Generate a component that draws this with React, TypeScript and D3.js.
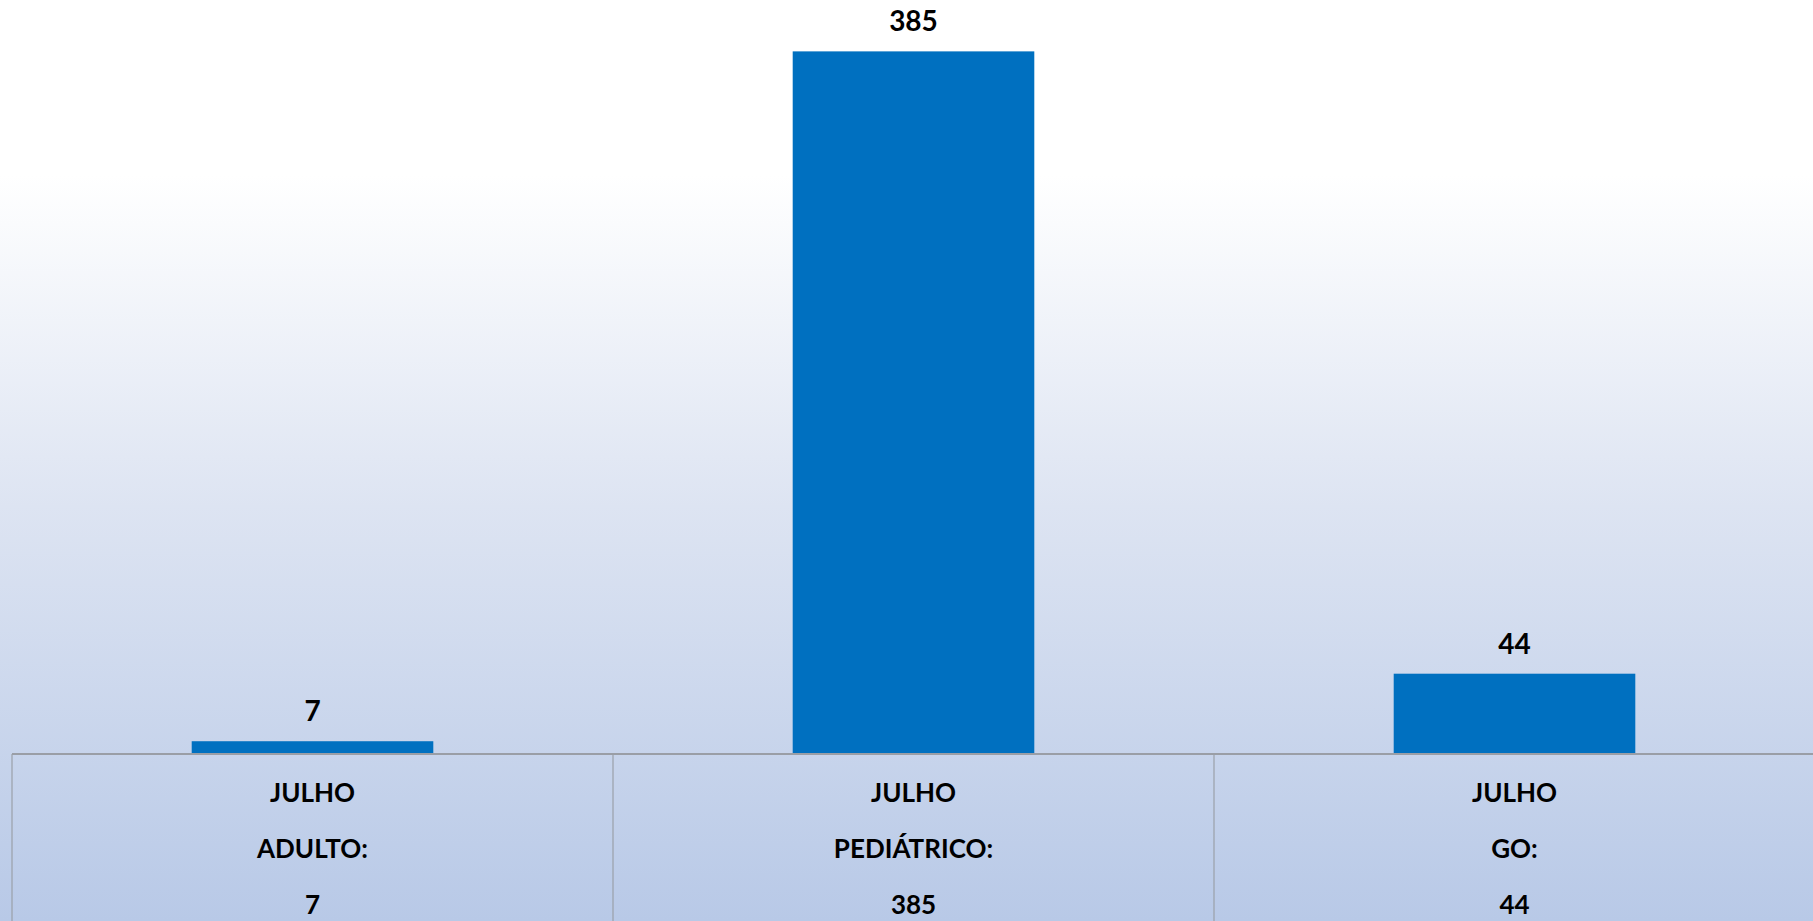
import React from "react";
import * as d3 from "d3";

const categories = ["ADULTO:", "PEDIÁTRICO:", "GO:"];
const period = "JULHO";
const values = [7, 385, 44];

const W = 1813;
const H = 921;

export default function App() {
  const x = d3.scaleBand<string>().domain(categories).range([12, 1815]).padding(0);
  const y = d3.scaleLinear().domain([0, 400]).range([754, 24]);
  const bw = x.bandwidth() * 0.402;
  const font = "Lato, 'Open Sans', sans-serif";
  const rowY = [802, 858, 914];
  return (
    <svg
      width={W}
      height={H}
      style={{ position: "absolute", left: 0, top: 0, display: "block" }}
    >
      <defs>
        <linearGradient id="bg" x1="0" y1="0" x2="0" y2="1">
          <stop offset="0" stopColor="#ffffff" />
          <stop offset="0.19" stopColor="#ffffff" />
          <stop offset="0.55" stopColor="#dde4f2" />
          <stop offset="1" stopColor="#b8c9e7" />
        </linearGradient>
      </defs>
      <rect x={0} y={0} width={W} height={H} fill="url(#bg)" />
      {categories.map((c, i) => {
        const cx = (x(c) as number) + x.bandwidth() / 2;
        return (
          <g key={c}>
            <rect
              x={cx - bw / 2}
              y={y(values[i])}
              width={bw}
              height={y(0) - y(values[i])}
              fill="#0070c0"
            />
            <text
              x={cx}
              y={y(values[i]) - 20}
              textAnchor="middle"
              fontFamily={font}
              fontWeight="bold"
              fontSize={28}
              fill="#000"
            >
              {values[i]}
            </text>
            <text x={cx} y={rowY[0]} textAnchor="middle" fontFamily={font} fontWeight="bold" fontSize={26} fill="#000">
              {period}
            </text>
            <text x={cx} y={rowY[1]} textAnchor="middle" fontFamily={font} fontWeight="bold" fontSize={26} fill="#000">
              {c}
            </text>
            <text x={cx} y={rowY[2]} textAnchor="middle" fontFamily={font} fontWeight="bold" fontSize={26} fill="#000">
              {values[i]}
            </text>
          </g>
        );
      })}
      {[...categories.map((c) => x(c) as number), 1815].map((lx, i) => (
        <line key={i} x1={lx} x2={lx} y1={754} y2={H} stroke="#9aa0a8" strokeWidth={1.2} />
      ))}
      <line x1={12} x2={W} y1={754} y2={754} stroke="#9a9ea6" strokeWidth={2} />
    </svg>
  );
}
